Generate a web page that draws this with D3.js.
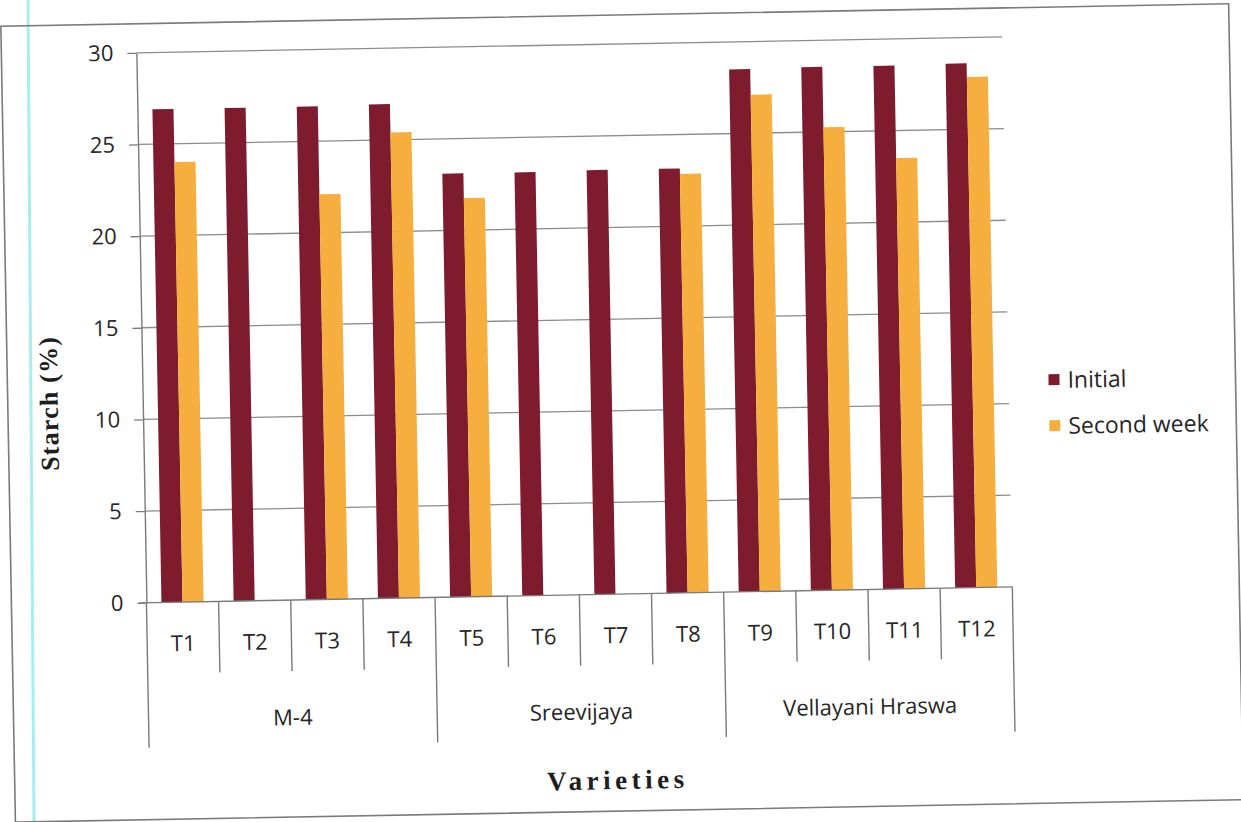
<!DOCTYPE html>
<html>
<head>
<meta charset="utf-8">
<script src="https://cdn.jsdelivr.net/npm/d3@7"></script>
<style>
  html, body { margin: 0; padding: 0; background: #ffffff; }
  svg { display: block; }
</style>
</head>
<body>
<svg id="chart" width="1241" height="822"></svg>
<script>
// ---- data ----
const categories = ["T1","T2","T3","T4","T5","T6","T7","T8","T9","T10","T11","T12"];
const groups = ["M-4","Sreevijaya","Vellayani Hraswa"];
const groupSize = [4, 4, 4];
const seriesNames = ["Initial","Second week"];
const initialValues = [26.9, 26.9, 26.9, 26.95, 23.1, 23.1, 23.15, 23.15, 28.5, 28.55, 28.55, 28.6];
const secondWeekValues = [24.0, null, 22.1, 25.4, 21.75, null, null, 22.85, 27.1, 25.25, 23.5, 27.85];
const yTicks = [0, 5, 10, 15, 20, 25, 30];
const colors = ["#7e1b2c", "#f6ae3f"];

// ---- layout ----
const W = 1241, H = 822;
const plotLeft = 143, plotRight = 1009, plotTop = 44, plotBottom = 594;
const svg = d3.select("#chart");

// scan artifact line (outside of rotated chart)
svg.append("line")
  .attr("x1", 28).attr("y1", 0).attr("x2", 34).attr("y2", H)
  .attr("stroke", "#a6eef0").attr("stroke-width", 3);

const g = svg.append("g").attr("transform", "rotate(-1.05, 620, 411)");

// outer border
g.append("rect")
  .attr("x", 8).attr("y", 15).attr("width", 1228).attr("height", 796)
  .attr("fill", "none").attr("stroke", "#7a7a7a").attr("stroke-width", 1.6);

const y = d3.scaleLinear().domain([0, 30]).range([plotBottom, plotTop]);
const x0 = d3.scaleBand().domain(categories).range([plotLeft, plotRight]).padding(0);
const x1 = d3.scaleBand().domain(seriesNames).range([0, x0.bandwidth()])
  .paddingInner(0).paddingOuter(0.714);

const font = "'Open Sans', 'Noto Sans', sans-serif";
const textColor = "#262626";

// gridlines
g.append("g").selectAll("line").data(yTicks.filter(t => t > 0)).join("line")
  .attr("x1", plotLeft).attr("x2", plotRight)
  .attr("y1", d => y(d)).attr("y2", d => y(d))
  .attr("stroke", "#8c8c8c").attr("stroke-width", 1.3);

// y axis
const yAxis = g.append("g").attr("transform", `translate(${plotLeft},0)`)
  .call(d3.axisLeft(y).tickValues(yTicks).tickSize(9).tickPadding(14).tickSizeOuter(0));
yAxis.select(".domain").attr("stroke", "#7a7a7a").attr("stroke-width", 1.4);
yAxis.selectAll(".tick line").attr("stroke", "#7a7a7a").attr("stroke-width", 1.3);
yAxis.selectAll(".tick text")
  .attr("font-family", font).attr("font-size", 22).attr("fill", textColor);

// bars
const seriesData = [initialValues, secondWeekValues];
seriesNames.forEach((s, si) => {
  g.append("g").selectAll("rect")
    .data(categories.map((c, i) => ({c, v: seriesData[si][i]})).filter(d => d.v != null))
    .join("rect")
    .attr("x", d => x0(d.c) + x1(s))
    .attr("y", d => y(d.v))
    .attr("width", x1.bandwidth())
    .attr("height", d => y(0) - y(d.v))
    .attr("fill", colors[si]);
});

// x axis baseline
g.append("line").attr("x1", plotLeft - 7).attr("x2", plotRight)
  .attr("y1", y(0)).attr("y2", y(0))
  .attr("stroke", "#7a7a7a").attr("stroke-width", 1.4);

// category separators and labels
const groupStarts = [0];
groupSize.forEach((n, i) => groupStarts.push(groupStarts[i] + n));
const sepIdx = d3.range(categories.length + 1);
g.append("g").selectAll("line").data(sepIdx).join("line")
  .attr("x1", i => i < categories.length ? x0(categories[i]) : plotRight)
  .attr("x2", i => i < categories.length ? x0(categories[i]) : plotRight)
  .attr("y1", y(0))
  .attr("y2", i => groupStarts.includes(i) ? 739 : 665)
  .attr("stroke", "#7a7a7a").attr("stroke-width", 1.4);

g.append("g").selectAll("text").data(categories).join("text")
  .attr("x", d => x0(d) + x0.bandwidth() / 2)
  .attr("y", 643)
  .attr("text-anchor", "middle")
  .attr("font-family", font).attr("font-size", 22).attr("fill", textColor)
  .text(d => d);

g.append("g").selectAll("text").data(groups).join("text")
  .attr("x", (d, i) => {
    const a = x0(categories[groupStarts[i]]);
    const b = groupStarts[i + 1] < categories.length ? x0(categories[groupStarts[i + 1]]) : plotRight;
    return (a + b) / 2;
  })
  .attr("y", 719)
  .attr("text-anchor", "middle")
  .attr("font-family", font).attr("font-size", 22).attr("fill", textColor)
  .text(d => d);

// axis titles
g.append("text")
  .attr("x", 611).attr("y", 789)
  .attr("text-anchor", "middle")
  .attr("font-family", "'Liberation Serif', 'DejaVu Serif', serif")
  .attr("font-weight", "bold").attr("font-size", 27)
  .attr("letter-spacing", 4.5).attr("fill", "#1e1e1e")
  .text("Varieties");

g.append("text")
  .attr("transform", "translate(58,393) rotate(-90)")
  .attr("text-anchor", "middle")
  .attr("font-family", "'Liberation Serif', 'DejaVu Serif', serif")
  .attr("font-weight", "bold").attr("font-size", 26)
  .attr("letter-spacing", 1.2).attr("fill", "#1e1e1e")
  .text("Starch (%)");

// legend
const legend = g.append("g");
seriesNames.forEach((s, i) => {
  const ly = 388 + i * 46;
  legend.append("rect").attr("x", 1049).attr("y", ly - 6).attr("width", 11).attr("height", 11)
    .attr("fill", colors[i]);
  legend.append("text").attr("x", 1068).attr("y", ly + 8)
    .attr("font-family", font).attr("font-size", 23).attr("fill", textColor)
    .text(s);
});
</script>
</body>
</html>
